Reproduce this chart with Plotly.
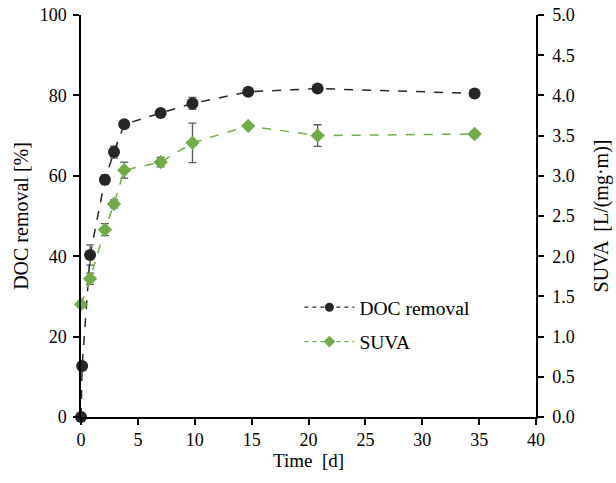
import plotly.graph_objects as go

# Data
doc_time = [0, 0.1, 0.8, 2.1, 2.9, 3.8, 7.0, 9.8, 14.7, 20.8, 34.6]
doc_removal = [0, 12.7, 40.3, 59.0, 65.9, 72.8, 75.6, 78.0, 80.9, 81.7, 80.5]
doc_err = [0, 0, 2.5, 1.2, 1.5, 0.8, 0.7, 1.5, 0.5, 0.6, 0.5]

suva_time = [0, 0.8, 2.1, 2.9, 3.8, 7.0, 9.8, 14.7, 20.8, 34.6]
suva = [1.40, 1.72, 2.33, 2.65, 3.07, 3.17, 3.41, 3.62, 3.50, 3.52]
suva_err = [0.03, 0.07, 0.075, 0.05, 0.10, 0.06, 0.245, 0.03, 0.135, 0.04]

x_ticks = [0, 5, 10, 15, 20, 25, 30, 35, 40]
y_left_ticks = [0, 20, 40, 60, 80, 100]
y_right_ticks = [0.0, 0.5, 1.0, 1.5, 2.0, 2.5, 3.0, 3.5, 4.0, 4.5, 5.0]

FONT = "Times New Roman, Liberation Serif, serif"
DOC_COLOR = "#262626"
SUVA_COLOR = "#70AD47"

fig = go.Figure()
fig.add_trace(go.Scatter(
    x=doc_time, y=doc_removal, name="DOC removal", mode="lines+markers",
    line=dict(color=DOC_COLOR, dash="dash", width=1.5),
    marker=dict(symbol="circle", size=12, color=DOC_COLOR),
    error_y=dict(type="data", array=doc_err, color="#595959", thickness=1.3, width=4),
    cliponaxis=False, showlegend=False,
))
fig.add_trace(go.Scatter(
    x=suva_time, y=suva, name="SUVA", mode="lines+markers", yaxis="y2",
    line=dict(color=SUVA_COLOR, dash="dash", width=1.5),
    marker=dict(symbol="diamond", size=11, color=SUVA_COLOR),
    error_y=dict(type="data", array=suva_err, color="#595959", thickness=1.3, width=4),
    cliponaxis=False, showlegend=False,
))
# legend entries (smaller markers, as in the original)
fig.add_trace(go.Scatter(
    x=[None], y=[None], name="DOC removal", mode="lines+markers", legendgroup="a",
    line=dict(color=DOC_COLOR, dash="4px,4px", width=1.3),
    marker=dict(symbol="circle", size=9, color=DOC_COLOR),
))
fig.add_trace(go.Scatter(
    x=[None], y=[None], name="SUVA", mode="lines+markers", legendgroup="b",
    line=dict(color=SUVA_COLOR, dash="4px,4px", width=1.3),
    marker=dict(symbol="diamond", size=9, color=SUVA_COLOR),
))

axis_common = dict(
    showline=True, linecolor="black", linewidth=1.5, ticks="outside",
    tickcolor="black", tickwidth=1.5, ticklen=6, showgrid=False, zeroline=False,
    tickfont=dict(family=FONT, size=18, color="black"), automargin=False,
)

fig.update_layout(
    width=616, height=483,
    margin=dict(l=81, r=80, t=15, b=66),
    paper_bgcolor="white", plot_bgcolor="white",
    font=dict(family=FONT, size=18, color="black"),
    xaxis=dict(range=[0, 40], tickvals=x_ticks,
               title=dict(text="Time  [d]", font=dict(family=FONT, size=19), standoff=0),
               **axis_common),
    yaxis=dict(range=[0, 100], tickvals=y_left_ticks, ticklabelstandoff=3,
               title=dict(text="DOC removal [%]", font=dict(family=FONT, size=20), standoff=6),
               **axis_common),
    yaxis2=dict(range=[0, 5], tickvals=y_right_ticks, tickformat=".1f",
                overlaying="y", side="right", anchor="x", ticklabelstandoff=5,
                title=dict(text="SUVA  [L/(mg·m)]", font=dict(family=FONT, size=20), standoff=20),
                **axis_common),
    legend=dict(x=0.48, y=0.23, xanchor="left", yanchor="middle",
                bgcolor="rgba(0,0,0,0)", font=dict(family=FONT, size=19.5),
                tracegroupgap=6, itemwidth=50),
    showlegend=True,
)

fig.write_html("out.html")
